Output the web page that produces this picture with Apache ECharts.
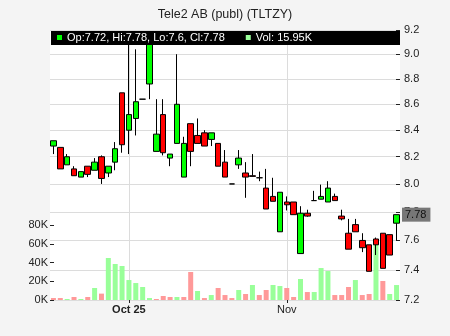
<!DOCTYPE html>
<html><head><meta charset="utf-8">
<script src="https://cdn.jsdelivr.net/npm/echarts@6/dist/echarts.min.js"></script>
<style>html,body{margin:0;padding:0;background:#f4f4f4}#c{width:450px;height:336px}</style>
</head><body><div id="c"></div>
<script>
const titleText = 'Tele2 AB (publ) (TLTZY)';
const dates = [
 '2025-09-16','2025-09-17','2025-09-18','2025-09-19','2025-09-22','2025-09-23','2025-09-24','2025-09-25','2025-09-26','2025-09-29','2025-09-30',
 '2025-10-01','2025-10-02','2025-10-03','2025-10-06','2025-10-07','2025-10-08','2025-10-09','2025-10-10','2025-10-13','2025-10-14','2025-10-15','2025-10-16','2025-10-17','2025-10-20','2025-10-21','2025-10-22','2025-10-23','2025-10-24','2025-10-27','2025-10-28','2025-10-29','2025-10-30','2025-10-31',
 '2025-11-03','2025-11-04','2025-11-05','2025-11-06','2025-11-07','2025-11-10','2025-11-11','2025-11-12','2025-11-13','2025-11-14','2025-11-17','2025-11-18','2025-11-19','2025-11-20','2025-11-21','2025-11-24','2025-11-25'];
const opens  = [8.28,8.27,8.14,8.11,8.05,8.13,8.10,8.20,8.08,8.16,8.69,8.40,8.49,8.64,8.76,8.24,8.52,8.19,8.30,8.05,8.45,8.36,8.38,8.33,8.30,8.16,8.00,8.14,8.08,8.06,8.045,7.97,7.91,7.66,7.87,7.87,7.51,7.79,7.88,7.89,7.87,7.91,7.77,7.65,7.71,7.60,7.57,7.61,7.65,7.64,7.72];
const closes = [8.32,8.11,8.20,8.06,8.09,8.07,8.16,8.04,8.13,8.26,8.29,8.52,8.62,8.64,9.08,8.37,8.23,8.22,8.60,8.30,8.24,8.30,8.28,8.38,8.13,8.05,8.00,8.19,8.05,8.055,8.045,7.82,7.875,7.94,7.85,7.78,7.79,7.77,7.88,7.91,7.97,7.88,7.75,7.54,7.66,7.55,7.39,7.57,7.41,7.50,7.78];
const lows   = [8.22,8.11,8.14,8.06,8.05,8.05,8.10,8.00,8.05,8.10,8.23,8.22,8.36,8.64,8.64,8.24,8.21,8.13,8.30,8.05,8.13,8.30,8.28,8.28,8.13,8.05,8.00,8.11,7.90,8.055,8.02,7.82,7.875,7.66,7.81,7.78,7.51,7.765,7.88,7.89,7.87,7.88,7.74,7.54,7.66,7.52,7.39,7.50,7.41,7.50,7.60];
const highs  = [8.32,8.27,8.22,8.13,8.09,8.13,8.19,8.21,8.13,8.31,8.69,9.12,9.04,8.64,9.12,8.64,8.64,8.22,9.00,8.35,8.45,8.49,8.40,8.38,8.30,8.25,8.00,8.25,8.16,8.22,8.09,8.11,8.045,7.94,7.91,7.87,7.84,7.815,7.95,7.995,8.02,7.93,7.815,7.75,7.75,7.65,7.57,7.62,7.65,7.64,7.78];
const volumes = [2100,2100,1100,3200,1100,3200,12800,6800,44800,38400,36300,21300,18100,13900,2100,1100,4300,3200,3200,3200,29900,9600,2100,5300,12800,5300,2100,10700,6400,16000,5300,10700,16000,14900,12800,3200,22400,8500,8500,34100,30900,5300,5300,13900,21300,5300,6400,60000,20300,6400,15950];
const prevClose = 8.33;
const priceTicks = [7.2,7.4,7.6,7.8,8.0,8.2,8.4,8.6,8.8,9.0,9.2];
const volMax = 80000, volStep = 20000;
const xTickDates = ['2025-10-01','2025-11-03'];
const xTickLabels = ['Oct 25','Nov'];
const xTickBold = [true,false];

const FONT = 'Liberation Sans, Arial, sans-serif';
const UP = '#00ff00', DOWN = '#ff0000', VUP = '#99ff99', VDOWN = '#ff9999';
const GRID = '#dcdcdc', TXT = '#222';

const candles = dates.map((d,i)=>[opens[i],closes[i],lows[i],highs[i]]);
const volData = volumes.map((v,i)=>{
  const pc = i===0 ? prevClose : closes[i-1];
  return {value:v, itemStyle:{color: closes[i] >= pc ? VUP : VDOWN}};
});
const n = dates.length-1;
const candleName = 'Op:'+opens[n]+', Hi:'+highs[n]+', Lo:'+lows[n]+', Cl:'+closes[n];
const volName = 'Vol: '+(volumes[n]/1000)+'K';
const tickFn = (idx) => xTickDates.indexOf(dates[idx]) >= 0;

const chart = echarts.init(document.getElementById('c'), null, {renderer:'canvas'});
chart.setOption({
  animation:false,
  backgroundColor:'#f4f4f4',
  textStyle:{fontFamily:FONT},
  title:{text:titleText,left:'center',top:3,textStyle:{fontSize:12.5,fontWeight:'normal',color:TXT,fontFamily:FONT}},
  graphic:{elements:[{type:'rect',left:51,top:31,z:10,shape:{width:349,height:14},style:{fill:'#000'}}]},
  legend:{left:57,top:31,padding:[1,0,0,0],itemWidth:5,itemHeight:5,itemGap:21,icon:'rect',selectedMode:false,z:20,
    textStyle:{color:'#fff',fontSize:11,fontFamily:FONT},
    data:[{name:candleName,itemStyle:{color:UP,borderWidth:0}},{name:volName,itemStyle:{color:VUP,borderWidth:0}}]},
  grid:[
    {left:50,right:50,top:30,bottom:36,show:true,backgroundColor:'#fff',borderWidth:0},
    {left:50,right:50,top:225,bottom:36}
  ],
  xAxis:[
    {type:'category',gridIndex:0,data:dates,boundaryGap:true,
     axisLine:{show:false},
     axisTick:{show:true,alignWithLabel:true,interval:tickFn,length:3,lineStyle:{color:TXT}},
     axisLabel:{interval:tickFn,margin:4,fontSize:11,color:TXT,fontFamily:FONT,
       formatter:(v)=>{const k=xTickDates.indexOf(v); if(k<0) return ''; return xTickBold[k]?'{b|'+xTickLabels[k]+'}':xTickLabels[k];},
       rich:{b:{fontWeight:'bold',fontSize:11,color:TXT,fontFamily:FONT}}},
     splitLine:{show:true,alignWithLabel:true,interval:tickFn,lineStyle:{color:GRID,width:1}}},
    {type:'category',gridIndex:1,data:dates,boundaryGap:true,show:false}
  ],
  yAxis:[
    {type:'log',gridIndex:0,position:'right',min:7.2,max:9.2,logBase:10,
     axisLine:{show:false},
     axisTick:{show:true,inside:true,length:4,customValues:priceTicks,lineStyle:{color:TXT}},
     axisLabel:{customValues:priceTicks,margin:4,fontSize:11,color:TXT,fontFamily:FONT,formatter:(v)=>Number(v).toFixed(1)},
     splitLine:{show:true,lineStyle:{color:GRID,width:1}}},
    {type:'value',gridIndex:1,position:'left',min:0,max:volMax,interval:volStep,
     axisLine:{show:false},
     axisTick:{show:true,inside:true,length:4,lineStyle:{color:TXT}},
     axisLabel:{margin:2,fontSize:11,color:TXT,fontFamily:FONT,formatter:(v)=>(v/1000)+'K'},
     splitLine:{show:false}}
  ],
  series:[
    {name:volName,type:'bar',xAxisIndex:1,yAxisIndex:1,data:volData,barWidth:5,z:1,itemStyle:{color:VUP}},
    {name:candleName,type:'candlestick',xAxisIndex:0,yAxisIndex:0,data:candles,barWidth:6,z:3,
     itemStyle:{color:UP,color0:DOWN,borderColor:'#000',borderColor0:'#000',borderColorDoji:'#000',borderWidth:1},
     markLine:{symbol:'none',silent:true,animation:false,z:30,
       lineStyle:{color:'rgba(0,0,0,0)',width:0,type:'solid'},
       label:{show:true,position:'end',distance:2,formatter:()=>String(closes[n]),backgroundColor:'#777777',color:'#111',fontSize:11,padding:[2,4,1,3],fontFamily:FONT,opacity:1},
       data:[{yAxis:closes[n]}]}}
  ]
});
</script></body></html>
